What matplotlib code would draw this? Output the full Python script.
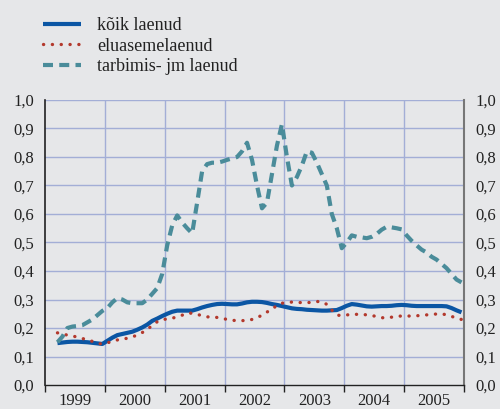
import numpy as np
import matplotlib
matplotlib.use("Agg")
import matplotlib.pyplot as plt
from matplotlib.ticker import FixedLocator, FuncFormatter, NullFormatter

# ---- data (monthly, Mar 1999 .. Dec 2005) ----
start_year = 1999
start_month = 3
years = ["1999", "2000", "2001", "2002", "2003", "2004", "2005"]

koik = [0.147, 0.149, 0.151, 0.152, 0.152, 0.151, 0.150, 0.148, 0.146, 0.144,
        0.155, 0.166, 0.175, 0.179, 0.183, 0.187, 0.194, 0.202, 0.212, 0.225,
        0.233, 0.242, 0.250, 0.257, 0.261, 0.261, 0.261, 0.261, 0.266, 0.272,
        0.277, 0.281, 0.284, 0.285, 0.284, 0.283, 0.283, 0.286, 0.290, 0.292,
        0.292, 0.291, 0.288, 0.284, 0.281, 0.277, 0.273, 0.269, 0.267, 0.266,
        0.264, 0.263, 0.262, 0.261, 0.261, 0.262, 0.263, 0.270, 0.278, 0.284,
        0.282, 0.279, 0.276, 0.275, 0.276, 0.277, 0.277, 0.278, 0.280, 0.281,
        0.280, 0.278, 0.277, 0.277, 0.277, 0.277, 0.277, 0.277, 0.276, 0.270,
        0.262, 0.255]

eluasemel = [0.183, 0.179, 0.175, 0.172, 0.168, 0.163, 0.159, 0.153, 0.146, 0.144,
             0.148, 0.153, 0.158, 0.161, 0.164, 0.169, 0.175, 0.184, 0.196, 0.208,
             0.222, 0.229, 0.232, 0.234, 0.240, 0.245, 0.252, 0.252, 0.248, 0.243,
             0.239, 0.239, 0.237, 0.234, 0.230, 0.227, 0.226, 0.226, 0.226, 0.230,
             0.236, 0.245, 0.256, 0.265, 0.280, 0.287, 0.289, 0.291, 0.290, 0.289,
             0.289, 0.290, 0.293, 0.292, 0.283, 0.263, 0.245, 0.244, 0.246, 0.247,
             0.248, 0.248, 0.246, 0.244, 0.240, 0.236, 0.236, 0.238, 0.241, 0.242,
             0.242, 0.242, 0.243, 0.244, 0.246, 0.248, 0.249, 0.250, 0.246, 0.241,
             0.234, 0.230]

tarbimis = [0.150, 0.170, 0.200, 0.205, 0.207, 0.210, 0.220, 0.230, 0.245, 0.260,
            0.270, 0.290, 0.305, 0.300, 0.290, 0.287, 0.287, 0.287, 0.300, 0.320,
            0.340, 0.390, 0.490, 0.560, 0.595, 0.570, 0.550, 0.532, 0.640, 0.750,
            0.775, 0.780, 0.780, 0.784, 0.790, 0.795, 0.800, 0.820, 0.850, 0.790,
            0.700, 0.620, 0.640, 0.740, 0.840, 0.915, 0.800, 0.700, 0.730, 0.770,
            0.820, 0.815, 0.780, 0.740, 0.700, 0.600, 0.550, 0.480, 0.500, 0.525,
            0.520, 0.518, 0.515, 0.520, 0.530, 0.545, 0.555, 0.553, 0.550, 0.546,
            0.525, 0.506, 0.490, 0.475, 0.465, 0.450, 0.440, 0.425, 0.410, 0.390,
            0.370, 0.360]

labels = ["kõik laenud", "eluasemelaenud", "tarbimis- jm laenud"]

# ---- figure ----
plt.rcParams['font.family'] = ['Liberation Serif', 'DejaVu Serif']
bg = '#e6e7e9'
fig = plt.figure(figsize=(5.0, 4.09), dpi=100, facecolor=bg)
ax = fig.add_axes([45/500, 1-385/409, (464-45)/500, (385-100)/409], facecolor=bg)

n = len(koik)
x = start_year + (start_month - 1 + 0.5 + np.arange(n)) / 12.0

grid_c = '#a3aed6'
ax.plot(x, koik, color='#0b56a4', lw=3.0, solid_capstyle='butt', label=labels[0], zorder=3)
ax.plot(x, eluasemel, color='#b3392d', lw=2.4, linestyle=(0, (0.05, 2.6)),
        dash_capstyle='round', label=labels[1], zorder=3)
ax.plot(x, tarbimis, color='#4a8c9a', lw=3.0, linestyle=(0, (2.4, 1.5)),
        dash_capstyle='butt', label=labels[2], zorder=3)

ax.set_xlim(1999, 2006)
ax.set_ylim(0, 1.0)

# grid
for yv in np.arange(0.1, 1.01, 0.1):
    ax.axhline(yv, color=grid_c, lw=1.0, zorder=1)
for xv in range(2000, 2006):
    ax.axvline(xv, color=grid_c, lw=1.0, zorder=1)

# x axis: ticks at year boundaries, labels at mid-year
ax.xaxis.set_major_locator(FixedLocator(range(1999, 2007)))
ax.xaxis.set_major_formatter(NullFormatter())
ax.xaxis.set_minor_locator(FixedLocator([int(y) + 0.5 for y in years]))
ax.xaxis.set_minor_formatter(FuncFormatter(lambda v, p: str(int(v))))
ax.tick_params(axis='x', which='major', direction='out', length=5, width=1, color='#222222')
ax.tick_params(axis='x', which='minor', length=0, pad=6, labelsize=12)

yt = np.round(np.arange(0, 1.01, 0.1), 1)
ax.set_yticks(yt)
ax.yaxis.set_major_formatter(FuncFormatter(lambda v, p: f"{v:.1f}".replace('.', ',')))
ax.tick_params(axis='y', which='both', length=0, pad=8, labelsize=12,
               left=True, right=True, labelleft=True, labelright=True)
for lab in ax.get_yticklabels():
    lab.set_color('#222222')
for lab in ax.get_xticklabels(minor=True):
    lab.set_color('#222222')

ax.spines['top'].set_visible(False)
ax.spines['left'].set_color('#222222')
ax.spines['left'].set_linewidth(1.2)
ax.spines['bottom'].set_color('#222222')
ax.spines['bottom'].set_linewidth(1.0)
ax.spines['right'].set_color('#777777')
ax.spines['right'].set_linewidth(1.5)

leg = fig.legend(loc='upper left', bbox_to_anchor=(43/500, 1 - 17/409),
                 frameon=False, fontsize=13, handlelength=2.1, handletextpad=0.9,
                 labelspacing=0.2, borderpad=0, borderaxespad=0)
for t in leg.get_texts():
    t.set_color('#222222')

fig.savefig('out.png', dpi=100, facecolor=bg)
